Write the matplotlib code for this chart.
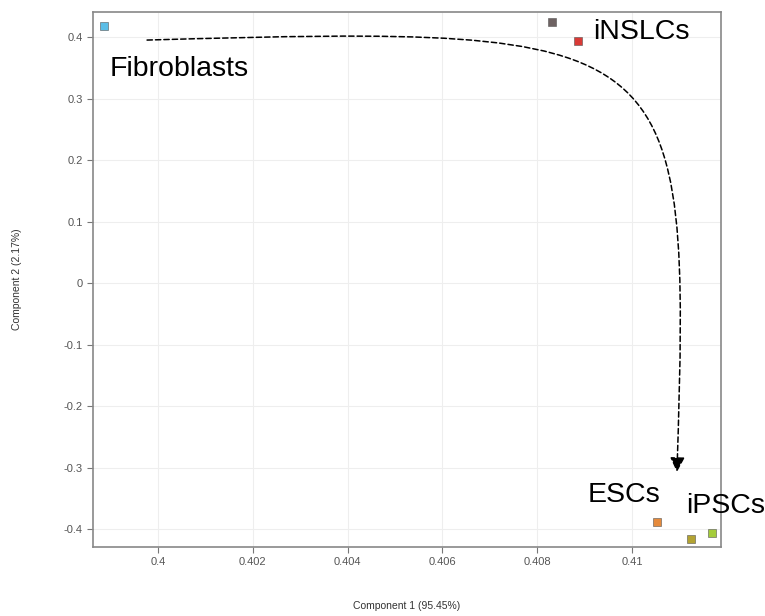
import matplotlib.pyplot as plt
from matplotlib.path import Path
from matplotlib.patches import FancyArrowPatch

plt.rcParams['font.family'] = ['Liberation Sans', 'DejaVu Sans']

# PCA scores
samples = ['Fibroblasts', 'iNSLCs_a', 'iNSLCs_b', 'ESCs', 'iPSCs_a', 'iPSCs_b']
comp1 = [0.39886, 0.40831, 0.40886, 0.41053, 0.41124, 0.41169]
comp2 = [0.418, 0.424, 0.3935, -0.389, -0.416, -0.407]
colors = ['#5bbde6', '#6e6262', '#d93a36', '#e58a3c', '#b3a332', '#a4cc3a']

group_names = ['Fibroblasts', 'iNSLCs', 'ESCs', 'iPSCs']
group_x = [0.39899, 0.40918, 0.40907, 0.41114]
group_y = [0.348, 0.408, -0.345, -0.362]

xticks = [0.4, 0.402, 0.404, 0.406, 0.408, 0.41]
yticks = [-0.4, -0.3, -0.2, -0.1, 0, 0.1, 0.2, 0.3, 0.4]

fig = plt.figure(figsize=(7.65, 6.16), dpi=100)
ax = fig.add_axes([0.1216, 0.112, 0.8209, 0.8685])

for x, y, c in zip(comp1, comp2, colors):
    ax.scatter(x, y, marker='s', s=38, color=c, edgecolors='#555555',
               linewidths=0.4, zorder=3)

ax.set_xlim(0.39863, 0.41188)
ax.set_ylim(-0.429, 0.4407)
ax.set_xticks(xticks)
ax.set_xticklabels(['0.4', '0.402', '0.404', '0.406', '0.408', '0.41'])
ax.set_yticks(yticks)
ax.set_yticklabels(['-0.4', '-0.3', '-0.2', '-0.1', '0', '0.1', '0.2', '0.3', '0.4'])
ax.tick_params(colors='#777777', labelcolor='#555555', labelsize=8,
               length=4, width=0.8)
ax.grid(color='#eeeeee', linewidth=0.8)
ax.set_axisbelow(True)
for s in ax.spines.values():
    s.set_color('#888888')
    s.set_linewidth(1.2)

ax.set_xlabel('Component 1 (95.45%)', fontsize=7.5, color='#333333')
ax.xaxis.set_label_coords(0.5, -0.1)
ax.set_ylabel('Component 2 (2.17%)', fontsize=7.5, color='#333333', labelpad=30)

for name, x, y in zip(group_names, group_x, group_y):
    t = ax.text(x, y, name, fontsize=20.5, ha='left', va='center', color='black',
                zorder=4)
    t.set_clip_on(False)

# trajectory arrow
verts = [(0.39977, 0.3951), (0.41110, 0.4195), (0.41125, 0.4100), (0.41095, -0.307)]
codes = [Path.MOVETO, Path.CURVE4, Path.CURVE4, Path.CURVE4]
arrow = FancyArrowPatch(path=Path(verts, codes), arrowstyle='-|>',
                        mutation_scale=22, color='black', linewidth=1.1,
                        linestyle=(0, (3.5, 2)), zorder=2)
ax.add_patch(arrow)

fig.savefig('out.png', dpi=100)
